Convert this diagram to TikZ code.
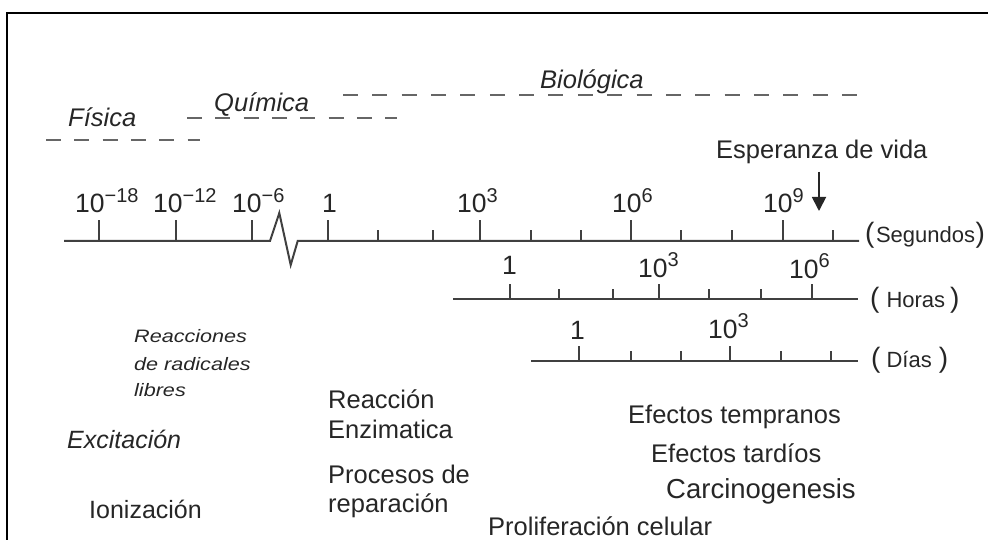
\documentclass[tikz,border=0pt]{standalone}
\usepackage{fontspec}
\setmainfont{Liberation Sans}
\newfontfamily\ancha[FakeStretch=1.2]{Liberation Sans}
\usetikzlibrary{arrows.meta,positioning}

\newcommand{\pot}[1]{10\raisebox{10.5pt}{\fontsize{20}{20}\selectfont#1}}
\newcommand{\unidad}[3]{{\fontsize{28}{28}\selectfont(}\kern#1 #2\kern#3{\fontsize{28}{28}\selectfont)}}

\tikzset{
texto/.style={inner sep=0pt,anchor=base west,text=black!85,font=\fontsize{25.5}{30}\selectfont},
fase/.style={texto,font=\fontsize{25.5}{30}\selectfont\itshape},
num/.style={texto,font=\fontsize{26.5}{30}\selectfont},
unid/.style={texto,font=\fontsize{22}{30}\selectfont},
eje/.style={line width=2pt,draw=black!75},
tramo/.style={line width=1.8pt,draw=black!60,dash pattern=on 15pt off 13.3pt}
}

\begin{document}
\begin{tikzpicture}[x=1pt,y=-1pt]
\useasboundingbox (0,0) rectangle (988,540);
\draw[line width=2pt] (7,540) -- (7,13) -- (988,13);

% fases
\node[fase] (F) at (68,127) {Física};
\node[fase] (Q) at (214,112) {Química};
\node[fase] (B) at (540,89) {Biológica};
\coordinate (Fa) at (46,140);
\coordinate (Fb) at (200,140);
\coordinate (Qa) at (187,118);
\coordinate (Qb) at (397,118);
\coordinate (Ba) at (343,95);
\coordinate (Bb) at (857,95);
\draw[tramo] (Fa)--(Fb);
\draw[tramo] (Qa)--(Qb);
\draw[tramo,dash pattern=on 15pt off 14.35pt] (Ba)--(Bb);

% segundos
\coordinate (Sa) at (64,241);
\coordinate (Sb) at (859,241);
\draw[eje] (Sa)--(270,241)--(279.3,213)--(290.7,265)--(297.7,241)--(Sb);
\draw[eje] (99,241)--(99,220) (176,241)--(176,220) (252,241)--(252,220)
  (328,241)--(328,220) (480,241)--(480,220) (631,241)--(631,220) (783,241)--(783,220);
\draw[eje] (378,241)--(378,230) (433,241)--(433,230) (531,241)--(531,230) (581,241)--(581,230)
  (681,241)--(681,230) (732,241)--(732,230) (833,241)--(833,230);
\node[num] (Sm18) at (75,213) {\pot{−18}};
\node[num] (Sm12) at (153,213) {\pot{−12}};
\node[num] (Sm6) at (232,213) {\pot{−6}};
\node[num] (S0) at (322,213) {1};
\node[num] (S3) at (457,213) {\pot{3}};
\node[num] (S6) at (612,213) {\pot{6}};
\node[num] (S9) at (763,213) {\pot{9}};
\node[unid] (Seg) at (865,243) {\unidad{1.5pt}{Segundos}{0.5pt}};

% esperanza de vida
\node[texto] (EV) at (716,159) {Esperanza de vida};
\coordinate (EVa) at (819,172);
\coordinate (EVb) at (819,211);
\draw[-{Triangle[length=14pt,width=14pt]},line width=1.8pt,draw=black!85,fill=black!85] (EVa)--(EVb);

% horas
\coordinate (Ha) at (453,299);
\coordinate (Hb) at (858,299);
\draw[eje] (Ha)--(Hb);
\draw[eje] (510,299)--(510,284) (659,299)--(659,284) (812,299)--(812,284);
\draw[eje] (559,299)--(559,289) (613,299)--(613,289) (709,299)--(709,289) (761,299)--(761,289);
\node[num] (H0) at (502,274) {1};
\node[num] (H3) at (638,277) {\pot{3}};
\node[num] (H6) at (789,278) {\pot{6}};
\node[unid] (Hor) at (870,307) {\unidad{7pt}{Horas}{5pt}};

% dias
\coordinate (Da) at (531,361);
\coordinate (Db) at (858,361);
\draw[eje] (Da)--(Db);
\draw[eje] (579,361)--(579,346) (730,361)--(730,346);
\draw[eje] (631,361)--(631,351) (681,361)--(681,351) (781,361)--(781,351) (831,361)--(831,351);
\node[num] (D0) at (570,339) {1};
\node[num] (D3) at (708,338) {\pot{3}};
\node[unid] (Dia) at (871,367) {\unidad{6pt}{Días}{7pt}};

% efectos
\node[texto,font=\fontsize{18}{20}\ancha\itshape] (RR1) at (134,342) {Reacciones};
\node[texto,font=\fontsize{18}{20}\ancha\itshape] (RR2) at ([shift={+(0,28)}]RR1.base west) {de radicales};
\node[texto,font=\fontsize{18}{20}\ancha\itshape] (RR3) at ([shift={+(0,26)}]RR2.base west) {libres};
\node[fase,font=\fontsize{25}{30}\selectfont\itshape] (EX) at (67,448) {Excitación};
\node[texto,font=\fontsize{25}{30}\selectfont] (IO) at (89,518) {Ionización};
\node[texto] (RE1) at (328,408) {Reacción};
\node[texto] (RE2) at ([shift={+(0,30)}]RE1.base west) {Enzimatica};
\node[texto] (PR1) at (328,483) {Procesos de};
\node[texto] (PR2) at ([shift={+(0,29)}]PR1.base west) {reparación};
\node[texto] (PC) at (488,535) {Proliferación celular};
\node[texto] (ET) at (628,423) {Efectos tempranos};
\node[texto] (ED) at (651,462) {Efectos tardíos};
\node[texto,font=\fontsize{27.5}{30}\selectfont] (CA) at (666,498) {Carcinogenesis};
\end{tikzpicture}
\end{document}
